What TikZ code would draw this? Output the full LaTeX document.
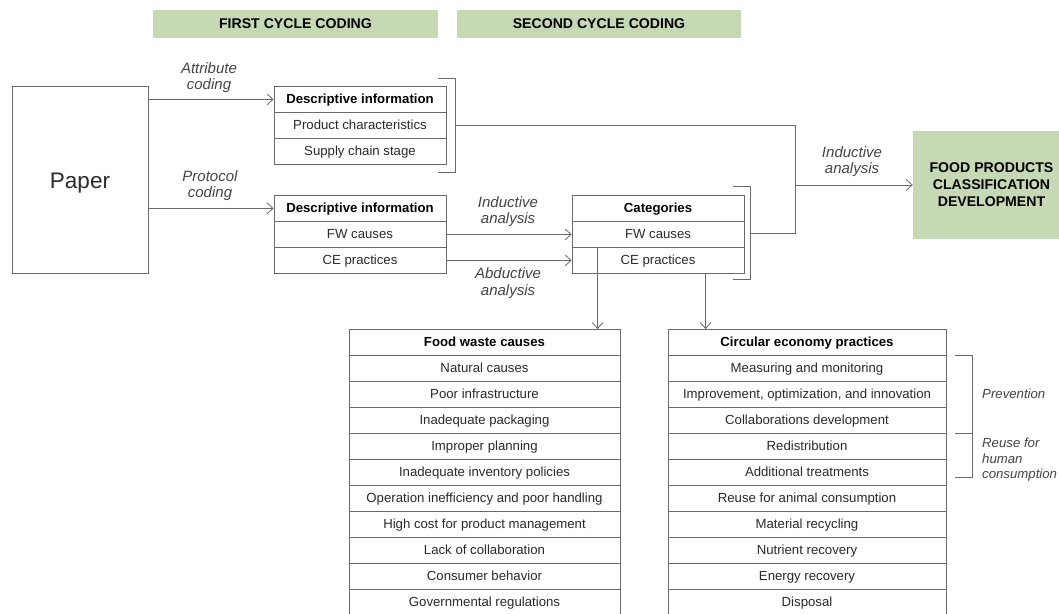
\documentclass[tikz,border=0pt]{standalone}
\usepackage{fontspec}
\setmainfont{Liberation Sans}
\usetikzlibrary{arrows.meta}
\definecolor{hdr}{HTML}{C5D9B4}
\definecolor{lncol}{HTML}{6A6A6A}
\definecolor{tx}{HTML}{2A2A2A}
\definecolor{lbltx}{HTML}{444444}
\tikzset{
 cell/.style={draw=lncol, line width=0.8pt, fill=white, minimum height=26pt, inner sep=0pt, text height=9pt, text depth=0.5pt, font=\fontsize{13.2}{15}\selectfont, text=tx, anchor=north},
 headcell/.style={cell, font=\fontsize{13.2}{15}\selectfont\bfseries, text=black},
 arr/.style={draw=lncol, line width=0.8pt, -{Straight Barb[length=6pt,width=11pt]}},
 wire/.style={draw=lncol, line width=0.8pt},
 lbl/.style={font=\fontsize{15}{16.5}\selectfont\itshape, text=lbltx, align=center, inner sep=0pt},
 band/.style={fill=hdr, inner sep=0pt, font=\fontsize{14.1}{16}\selectfont\bfseries, text=black},
}
\begin{document}
\begin{tikzpicture}[x=1pt,y=-1pt]
\useasboundingbox (0,0) rectangle (1059,613);
% header bands
\node[band, minimum width=285pt, minimum height=28pt] (h1) at (295.5,24) {FIRST CYCLE CODING};
\node[band, minimum width=284pt, minimum height=28pt] (h2) at (599,24) {SECOND CYCLE CODING};
% paper
\node[draw=lncol, line width=0.8pt, minimum width=136pt, minimum height=187pt, inner sep=0pt, text height=16pt, text depth=0pt, font=\fontsize{22.5}{26}\selectfont, text=tx] (paper) at (80,180) {Paper};
% table 1
\node[headcell, minimum width=172pt] (d1h) at (360,86) {Descriptive information};
\node[cell, minimum width=172pt] (d1a) at (360,112) {Product characteristics};
\node[cell, minimum width=172pt] (d1b) at (360,138) {Supply chain stage};
% table 2
\node[headcell, minimum width=172pt] (d2h) at (360,195) {Descriptive information};
\node[cell, minimum width=172pt] (d2a) at (360,221) {FW causes};
\node[cell, minimum width=172pt] (d2b) at (360,247) {CE practices};
% categories
\node[headcell, minimum width=172pt] (cath) at (658,195) {Categories};
\node[cell, minimum width=172pt] (cat1) at (658,221) {FW causes};
\node[cell, minimum width=172pt] (cat2) at (658,247) {CE practices};
% output
\node[fill=hdr, minimum width=157pt, minimum height=108pt, inner sep=0pt, align=center, font=\fontsize{14.1}{17}\selectfont\bfseries, text=black] (out) at (991.5,185) {FOOD PRODUCTS\\CLASSIFICATION\\DEVELOPMENT};
% food waste table
\node[headcell, minimum width=271pt] (fwh) at (484.5,329) {Food waste causes};
\foreach \t [count=\i from 0] in {Natural causes, Poor infrastructure, Inadequate packaging, Improper planning, Inadequate inventory policies, Operation inefficiency and poor handling, High cost for product management, Lack of collaboration, Consumer behavior, Governmental regulations}
  \node[cell, minimum width=271pt] (fw\i) at (484.5,355+26*\i) {\t};
% circular economy table
\node[headcell, minimum width=278pt] (ceh) at (807,329) {Circular economy practices};
\foreach \t [count=\i from 0] in {Measuring and monitoring, {Improvement, optimization, and innovation}, Collaborations development, Redistribution, Additional treatments, Reuse for animal consumption, Material recycling, Nutrient recovery, Energy recovery, Disposal}
  \node[cell, minimum width=278pt] (ce\i) at (807,355+26*\i) {\t};
% brackets
\draw[wire] (438,78) -- (455,78) -- (455,172) -- (438,172);
\coordinate (b1) at (455,125);
\draw[wire] (733,186) -- (750,186) -- (750,279) -- (733,279);
\coordinate (b2) at (750,233);
\coordinate (j) at (795,185);
\draw[wire] (955,355) -- (972,355) -- (972,433) -- (955,433);
\draw[wire] (972,433) -- (972,477) -- (955,477);
% connectors
\draw[arr] (paper.east |- d1h.west) -- (d1h.west);
\draw[arr] (paper.east |- d2h.west) -- (d2h.west);
\draw[arr] (d2a.east) -- (cat1.west);
\draw[arr] (d2b.east) -- (cat2.west);
\draw[wire] (b1) -| (j);
\draw[wire] (b2) -| (j);
\draw[arr] (j) -- (out.west);
\draw[arr] ([xshift=26pt]cat2.north west) -- ([xshift=26pt]cat2.north west |- fwh.north);
\draw[arr] ([xshift=134pt]cat2.south west) -- ([xshift=134pt]cat2.south west |- ceh.north);
% labels
\node[lbl] (l1) at (209,77.5) {Attribute\\coding};
\node[lbl] (l2) at (210,185.5) {Protocol\\coding};
\node[lbl] (l3) at (508,211.5) {Inductive\\analysis};
\node[lbl] (l4) at (508,283) {Abductive\\analysis};
\node[lbl] (l5) at (852,161.5) {Inductive\\analysis};
\node[lbl, anchor=west, font=\fontsize{13.2}{14}\selectfont\itshape] (prev) at (982,394) {Prevention};
\node[lbl, anchor=north west, align=left, font=\fontsize{13.2}{15.5}\selectfont\itshape] (reuse) at (982,438) {Reuse for\\human\\consumption};
\end{tikzpicture}
\end{document}
